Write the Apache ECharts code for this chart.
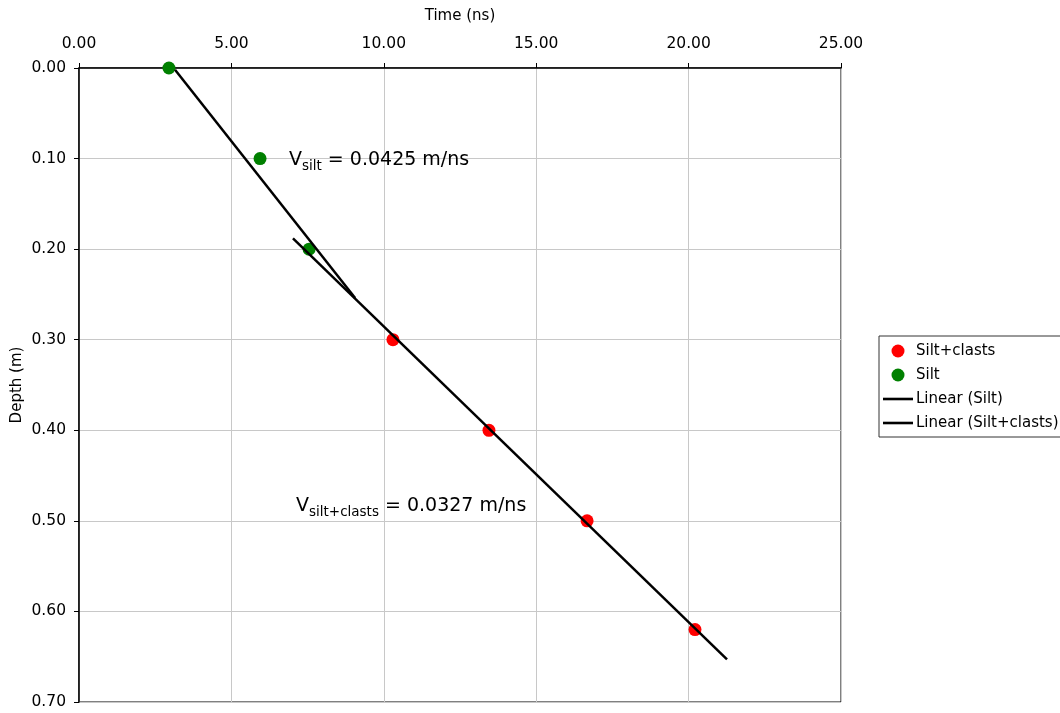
<!DOCTYPE html>
<html>
<head>
<meta charset="utf-8">
<script src="https://cdn.jsdelivr.net/npm/echarts@6/dist/echarts.min.js"></script>
<style>html,body{margin:0;padding:0;background:#fff}#c{width:1060px;height:713px}</style>
</head>
<body>
<div id="c"></div>
<script>
// Data (time ns, depth m)
const siltPoints = [[2.95, 0.00], [5.94, 0.10], [7.55, 0.20]];
const clastPoints = [[10.30, 0.30], [13.45, 0.40], [16.67, 0.50], [20.21, 0.62]];
const siltTrend = [[3.15, 0.002], [9.06, 0.254]];
const clastTrend = [[7.02, 0.188], [21.26, 0.653]];
const xTicks = { min: 0, max: 25, interval: 5 };
const yTicks = { min: 0, max: 0.7, interval: 0.1 };

const FONT = 'DejaVu Sans';
const lineIcon = 'path://M0,0 L30,0 L30,2.6 L0,2.6 Z';
const chart = echarts.init(document.getElementById('c'), null, { renderer: 'canvas' });
chart.setOption({
  animation: false,
  textStyle: { fontFamily: FONT },
  grid: { left: 79, top: 68, width: 762, height: 634, containLabel: false, outerBoundsMode: 'none',
          show: true, borderColor: '#000', borderWidth: 1, backgroundColor: 'transparent' },
  xAxis: {
    type: 'value', position: 'top', min: xTicks.min, max: xTicks.max, interval: xTicks.interval,
    name: 'Time (ns)', nameLocation: 'middle', nameGap: 44, nameMoveOverlap: false,
    nameTextStyle: { fontSize: 15, color: '#000', fontFamily: FONT },
    axisLine: { show: true, lineStyle: { color: '#000', width: 1.5 } },
    axisTick: { show: true, length: 5, lineStyle: { color: '#000' } },
    axisLabel: { fontSize: 15.5, color: '#000', margin: 16, formatter: v => v.toFixed(2), fontFamily: FONT },
    splitLine: { show: true, lineStyle: { color: '#c8c8c8', width: 1 } }
  },
  yAxis: {
    type: 'value', inverse: true, min: yTicks.min, max: yTicks.max, interval: yTicks.interval,
    name: 'Depth (m)', nameLocation: 'middle', nameGap: 54, nameRotate: 90, nameMoveOverlap: false,
    nameTextStyle: { fontSize: 15, color: '#000', fontFamily: FONT },
    axisLine: { show: true, lineStyle: { color: '#000', width: 1.5 } },
    axisTick: { show: true, length: 5, lineStyle: { color: '#000' } },
    axisLabel: { fontSize: 15.5, color: '#000', margin: 13, formatter: v => v.toFixed(2), fontFamily: FONT },
    splitLine: { show: true, lineStyle: { color: '#c8c8c8', width: 1 } }
  },
  legend: {
    orient: 'vertical', left: 879, top: 336, itemGap: 6, itemWidth: 30, itemHeight: 13,
    padding: [6, 6, 5, 4], borderColor: '#333', borderWidth: 1,
    textStyle: { fontSize: 15, color: '#000', fontFamily: FONT, padding: [0, 0, 0, -2], lineHeight: 18 },
    data: [
      { name: 'Silt+clasts', icon: 'circle' },
      { name: 'Silt', icon: 'circle' },
      { name: 'Linear (Silt)', icon: lineIcon, itemStyle: { color: '#000' } },
      { name: 'Linear (Silt+clasts)', icon: lineIcon, itemStyle: { color: '#000' } }
    ]
  },
  series: [
    { name: 'Silt+clasts', type: 'scatter', data: clastPoints, symbol: 'circle', symbolSize: 13, itemStyle: { color: '#ff0000', opacity: 1 }, z: 3 },
    { name: 'Silt', type: 'scatter', data: siltPoints, symbol: 'circle', symbolSize: 13, itemStyle: { color: '#008000', opacity: 1 }, z: 3 },
    { name: 'Linear (Silt)', type: 'line', data: siltTrend, symbol: 'none', showSymbol: false, lineStyle: { color: '#000', width: 2.5 }, itemStyle: { color: '#000' }, z: 4 },
    { name: 'Linear (Silt+clasts)', type: 'line', data: clastTrend, symbol: 'none', showSymbol: false, lineStyle: { color: '#000', width: 2.5 }, itemStyle: { color: '#000' }, z: 4 }
  ],
  graphic: [
    {
      type: 'text', left: 289, top: 151, z: 10,
      style: {
        text: '{m|V}{s|silt}{m| = 0.0425 m/ns}', fill: '#000', fontFamily: FONT,
        rich: { m: { fontSize: 19, fontFamily: FONT, fill: '#000' }, s: { fontSize: 13.5, fontFamily: FONT, padding: [11, 0, 0, 0], fill: '#000' } }
      }
    },
    {
      type: 'text', left: 296, top: 497, z: 10,
      style: {
        text: '{m|V}{s|silt+clasts}{m| = 0.0327 m/ns}', fill: '#000', fontFamily: FONT,
        rich: { m: { fontSize: 19, fontFamily: FONT, fill: '#000' }, s: { fontSize: 13.5, fontFamily: FONT, padding: [11, 0, 0, 0], fill: '#000' } }
      }
    }
  ]
});
</script>
</body>
</html>
